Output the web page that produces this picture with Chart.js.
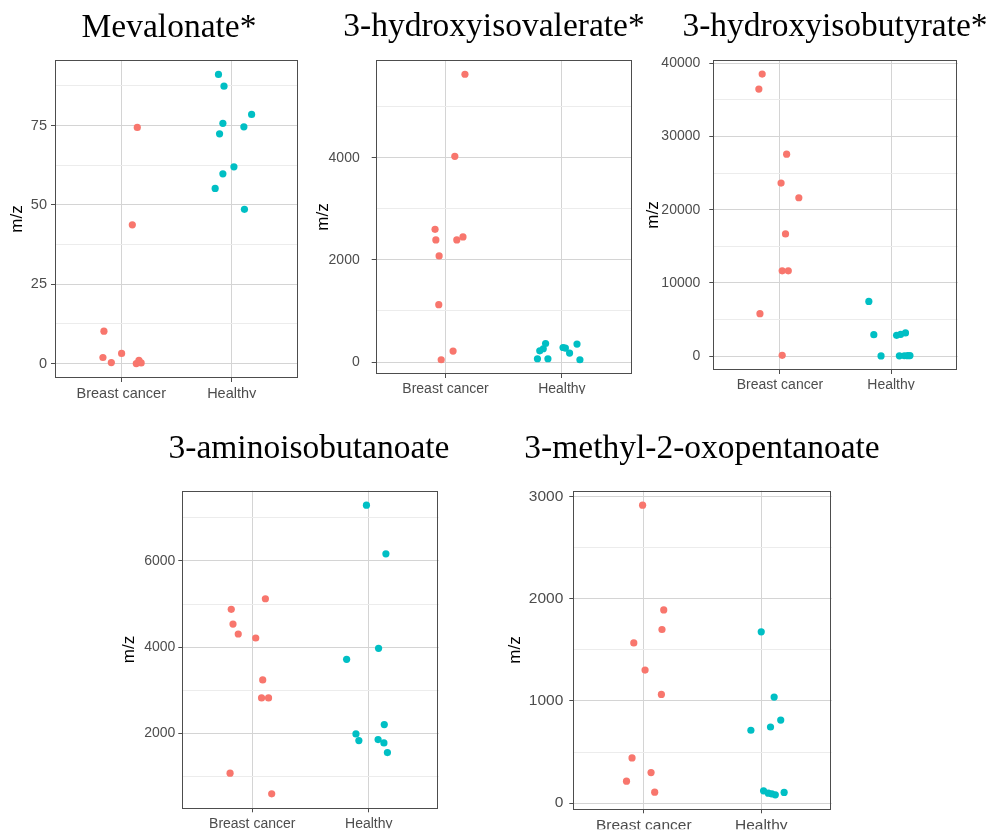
<!DOCTYPE html>
<html><head><meta charset="utf-8">
<script src="https://cdn.jsdelivr.net/npm/chart.js@4.4.1/dist/chart.umd.min.js"></script>
<style>
html,body{margin:0;padding:0;background:#fff;}
#wrap{position:relative;width:992px;height:830px;overflow:hidden;background:#fff;}
#wrap canvas{position:absolute;left:0;top:0;}
</style></head><body><div id="wrap"></div>
<script>
// ---- data ----
const categories = ["Breast cancer", "Healthy"];
const titles = ["Mevalonate*", "3-hydroxyisovalerate*", "3-hydroxyisobutyrate*", "3-aminoisobutanoate", "3-methyl-2-oxopentanoate"];
const yAxisTitle = "m/z";

const mevalonateBC = [74.4, 43.7, 10.2, 1.9, 0.3, 3.2, 0.0, 1.0, 0.2];
const mevalonateBCJitter = [0.145, 0.10, -0.157, -0.166, -0.09, 0.003, 0.136, 0.16, 0.18];
const mevalonateH = [91.1, 87.4, 75.7, 74.6, 78.5, 72.4, 62.0, 59.8, 55.2, 48.6];
const mevalonateHJitter = [-0.12, -0.07, -0.08, 0.11, 0.18, -0.11, 0.02, -0.08, -0.15, 0.115];
const mevalonateTicks = [0, 25, 50, 75];

const hIsovalBC = [5639, 4031, 2601, 2393, 2393, 2451, 2080, 1124, 214, 45];
const hIsovalBCJitter = [0.167, 0.08, -0.09, -0.083, 0.097, 0.15, -0.055, -0.058, 0.065, -0.037];
const hIsovalH = [363, 220, 260, 64, 64, 273, 176, 351, 45, 285];
const hIsovalHJitter = [-0.14, -0.19, -0.16, -0.21, -0.12, 0.03, 0.066, 0.13, 0.155, 0.01];
const hIsovalTicks = [0, 2000, 4000];

const hIsobutBC = [38503, 36463, 27578, 23633, 21633, 16694, 11660, 11660, 5810, 136];
const hIsobutBCJitter = [-0.16, -0.19, 0.06, 0.01, 0.17, 0.05, 0.02, 0.075, -0.18, 0.02];
const hIsobutH = [7483, 2952, 50, 2857, 3000, 3180, 60, 80, 90, 70];
const hIsobutHJitter = [-0.2, -0.155, -0.09, 0.05, 0.087, 0.13, 0.075, 0.15, 0.17, 0.12];
const hIsobutTicks = [0, 10000, 20000, 30000, 40000];

const aminoBC = [4877, 5123, 4536, 4304, 4211, 3237, 2819, 2819, 1072, 592];
const aminoBCJitter = [-0.18, 0.113, -0.165, -0.12, 0.03, 0.09, 0.08, 0.14, -0.19, 0.167];
const aminoH = [7297, 6167, 3972, 3717, 2200, 1984, 1829, 1852, 1775, 1550];
const aminoHJitter = [-0.02, 0.147, 0.084, -0.19, 0.133, -0.11, -0.085, 0.08, 0.13, 0.16];
const aminoTicks = [2000, 4000, 6000];

const oxoBC = [2916, 1891, 1699, 1568, 1302, 1064, 442, 299, 215, 107];
const oxoBCJitter = [-0.01, 0.17, 0.155, -0.085, 0.011, 0.15, -0.1, 0.062, -0.147, 0.093];
const oxoH = [1676, 1038, 813, 745, 713, 120, 97, 81, 104, 90];
const oxoHJitter = [0.0, 0.11, 0.166, 0.079, -0.088, 0.02, 0.06, 0.12, 0.195, 0.09];
const oxoTicks = [0, 1000, 2000, 3000];

// ---- layout / style (not data) ----
const RED = '#F8766D', CYAN = '#00BFC4';
const panels = [
  {bc: mevalonateBC, bcj: mevalonateBCJitter, h: mevalonateH, hj: mevalonateHJitter, ticks: mevalonateTicks,
   l: 55, r: 298, t: 60, b: 378, tx: 169, ty: 37, yt: 17, tp: 4, fs: 14.5},
  {bc: hIsovalBC, bcj: hIsovalBCJitter, h: hIsovalH, hj: hIsovalHJitter, ticks: hIsovalTicks,
   l: 375.7, r: 631.7, t: 60, b: 374, tx: 494, ty: 36, yt: 323, tp: 12, fs: 14},
  {bc: hIsobutBC, bcj: hIsobutBCJitter, h: hIsobutH, hj: hIsobutHJitter, ticks: hIsobutTicks,
   l: 713.3, r: 957.7, t: 60, b: 370, tx: 835, ty: 36, yt: 653, tp: 9, fs: 14},
  {bc: aminoBC, bcj: aminoBCJitter, h: aminoH, hj: aminoHJitter, ticks: aminoTicks,
   l: 182.3, r: 438.7, t: 490.7, b: 808.3, tx: 309, ty: 458, yt: 129, tp: 3, fs: 14},
  {bc: oxoBC, bcj: oxoBCJitter, h: oxoH, hj: oxoHJitter, ticks: oxoTicks,
   l: 573.3, r: 831.7, t: 490.7, b: 809.3, tx: 702, ty: 458, yt: 515, tp: 6, fs: 15.5}
];

const decor = {
  id: 'decor',
  afterDatasetsDraw(chart) {
    const {ctx, chartArea: a} = chart;
    ctx.save();
    ctx.strokeStyle = '#4d4d4d';
    ctx.lineWidth = 1;
    ctx.strokeRect(Math.round(a.left) + 0.5, Math.round(a.top) + 0.5,
                   Math.round(a.right - a.left) - 1, Math.round(a.bottom - a.top) - 1);
    ctx.restore();
  },
  afterDraw(chart, args, opts) {
    const ctx = chart.ctx;
    ctx.save();
    ctx.fillStyle = '#000';
    ctx.font = '33.5px "Liberation Serif", "Times New Roman", serif';
    ctx.textAlign = 'center';
    ctx.textBaseline = 'alphabetic';
    ctx.fillText(opts.text, opts.x, opts.y);
    ctx.restore();
  }
};

const wrap = document.getElementById('wrap');
const SANS = '"Liberation Sans", Arial, sans-serif';
const TITLE_FS = 17;
const MAJOR = '#d4d4d4', MINOR = '#ececec';

panels.forEach((p, idx) => {
  const cv = document.createElement('canvas');
  cv.width = 992; cv.height = 830;
  cv.style.width = '992px'; cv.style.height = '830px';
  wrap.appendChild(cv);

  const all = p.bc.concat(p.h);
  const dmin = Math.min(...all), dmax = Math.max(...all);
  const ymin = dmin - 0.05 * (dmax - dmin), ymax = dmax + 0.05 * (dmax - dmin);
  const step = p.ticks[1] - p.ticks[0];
  const cand = [];
  for (let k = -1; k <= p.ticks.length; k++) {
    const v = p.ticks[0] + k * step;
    cand.push(v); cand.push(v + step / 2);
  }
  const yTicks = cand.filter(v => v >= ymin && v <= ymax).sort((a, b) => a - b);
  const isMajor = v => p.ticks.includes(v);

  const padLeft = p.yt - TITLE_FS * 1.2 / 2;
  const yW = p.l - padLeft;

  new Chart(cv, {
    type: 'scatter',
    data: {
      datasets: [
        {data: p.bc.map((v, i) => ({x: 1 + p.bcj[i], y: v})), backgroundColor: RED,
         pointRadius: 3.6, pointBorderWidth: 0, pointHoverRadius: 3.6},
        {data: p.h.map((v, i) => ({x: 2 + p.hj[i], y: v})), backgroundColor: CYAN,
         pointRadius: 3.6, pointBorderWidth: 0, pointHoverRadius: 3.6}
      ]
    },
    options: {
      responsive: false, animation: false, events: [],
      layout: {padding: {left: padLeft, top: p.t, right: 992 - p.r, bottom: 830 - p.b - 20}},
      plugins: {legend: {display: false}, tooltip: {enabled: false}, title: {display: false},
        decor: {text: titles[idx], x: p.tx, y: p.ty}},
      scales: {
        x: {
          type: 'linear', min: 0.4, max: 2.6, bounds: 'data',
          afterFit: s => { s.height = 20; },
          afterBuildTicks: s => { s.ticks = [{value: 1}, {value: 2}]; },
          ticks: {autoSkip: false, maxRotation: 0, minRotation: 0, padding: 3, color: '#4d4d4d',
            font: {family: SANS, size: p.fs}, callback: v => categories[Math.round(v) - 1]},
          grid: {color: MAJOR, lineWidth: 1, tickLength: 4, tickColor: '#4d4d4d'},
          border: {display: false}
        },
        y: {
          type: 'linear', min: ymin, max: ymax, bounds: 'data',
          afterFit: s => { s.width = yW; },
          afterBuildTicks: s => { s.ticks = yTicks.map(v => ({value: v})); },
          ticks: {autoSkip: false, padding: p.tp, color: '#4d4d4d',
            font: {family: SANS, size: p.fs}, callback: v => isMajor(v) ? String(v) : ''},
          grid: {color: c => (c.tick && isMajor(c.tick.value)) ? MAJOR : MINOR, lineWidth: 1, tickLength: 4,
            tickColor: c => (c.tick && isMajor(c.tick.value)) ? '#4d4d4d' : 'rgba(0,0,0,0)'},
          border: {display: false},
          title: {display: true, text: yAxisTitle, color: '#000', padding: 0,
            font: {family: SANS, size: TITLE_FS}}
        }
      }
    },
    plugins: [decor]
  });
});
</script></body></html>
